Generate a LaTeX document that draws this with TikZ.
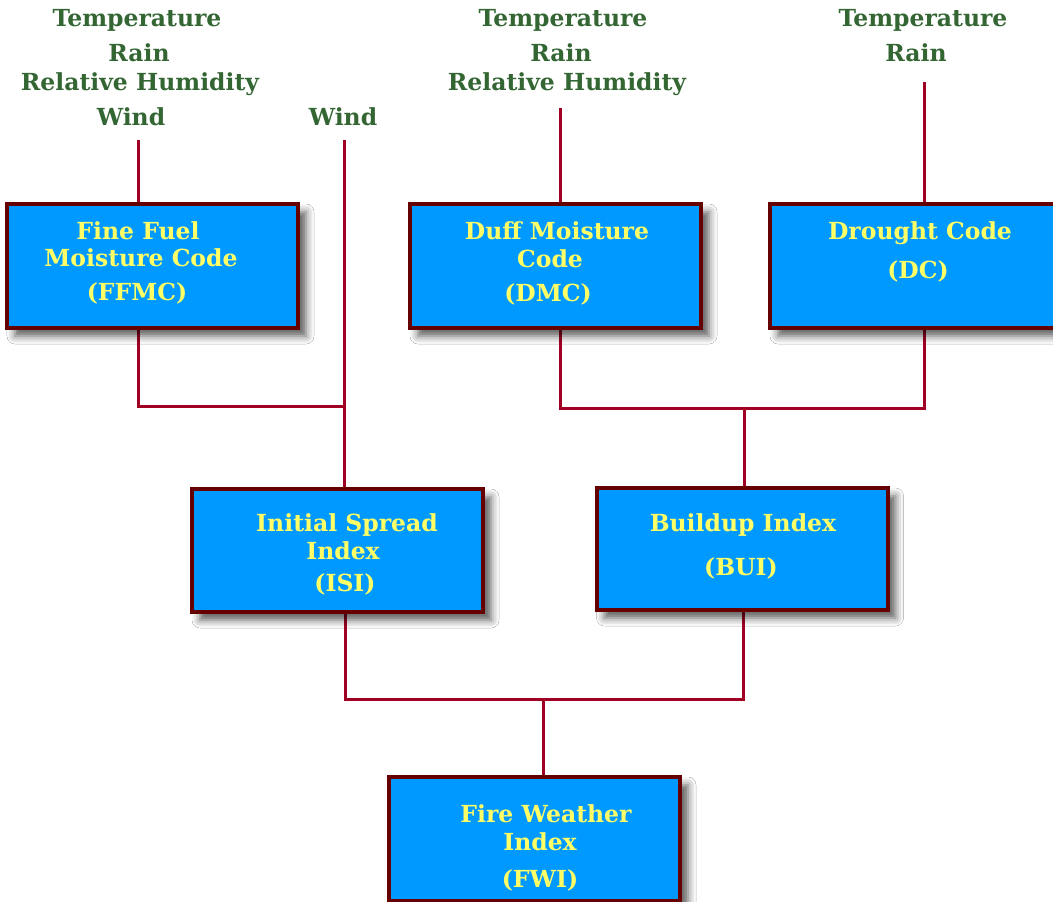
\documentclass[tikz,border=0pt]{standalone}
\usepackage{fontspec}
\setmainfont{DejaVu Serif}
\usetikzlibrary{shadows.blur,backgrounds}
\definecolor{boxblue}{RGB}{0,153,255}
\definecolor{boxedge}{RGB}{102,0,0}
\definecolor{conncol}{RGB}{160,0,35}
\definecolor{txtyellow}{RGB}{255,255,102}
\definecolor{txtgreen}{RGB}{51,102,51}
\begin{document}
\begin{tikzpicture}[x=1pt,y=-1pt,
  box/.style={draw=boxedge, line width=4pt, fill=boxblue, minimum width=291pt, minimum height=124pt, inner sep=0pt,
    blur shadow={shadow xshift=8pt, shadow yshift=-8pt, shadow blur radius=8pt, shadow opacity=65}},
  boxtext/.style={text=txtyellow, font=\bfseries\fontsize{23.5}{27}\selectfont, anchor=base, inner sep=0pt},
  wtext/.style={text=txtgreen, font=\bfseries\fontsize{23.5}{27}\selectfont, anchor=base, inner sep=0pt},
  conn/.style={draw=conncol, line width=3pt}]
\useasboundingbox (0,0) rectangle (1053,902);
\clip (0,0) rectangle (1053,902);

% boxes
\node[box] (ffmc) at (152.5,266) {};
\node[box] (dmc) at (555.5,266) {};
\node[box] (dc) at (915.5,266) {};
\node[box, minimum height=123pt] (isi) at (337.5,550.5) {};
\node[box, minimum height=122pt] (bui) at (742,549) {};
\node[box] (fwi) at (534.5,839) {};

% box texts
\node[boxtext] (ffmc1) at (138,239) {Fine Fuel};
\node[boxtext] (ffmc2) at (141,266) {Moisture Code};
\node[boxtext] (ffmc3) at (137,300) {(FFMC)};
\node[boxtext] (dmc1) at (557,239) {Duff Moisture};
\node[boxtext] (dmc2) at (550,267) {Code};
\node[boxtext] (dmc3) at (548,301) {(DMC)};
\node[boxtext] (dc1) at (920,239) {Drought Code};
\node[boxtext] (dc2) at (918,278) {(DC)};
\node[boxtext] (isi1) at (347,531) {Initial Spread};
\node[boxtext] (isi2) at (343,559) {Index};
\node[boxtext] (isi3) at (345,591) {(ISI)};
\node[boxtext] (bui1) at (743,531) {Buildup Index};
\node[boxtext] (bui2) at (741,575) {(BUI)};
\node[boxtext] (fwi1) at (546,822) {Fire Weather};
\node[boxtext] (fwi2) at (540,850) {Index};
\node[boxtext] (fwi3) at (540,887) {(FWI)};

% weather inputs
\node[wtext] (t1) at (137,27) {Temperature};
\node[wtext] (r1) at (139,61) {Rain};
\node[wtext] (h1) at (140,90) {Relative Humidity};
\node[wtext] (w1) at (131,125) {Wind};
\node[wtext] (w2) at (343,125) {Wind};
\node[wtext] (t2) at (563,27) {Temperature};
\node[wtext] (r2) at (561,61) {Rain};
\node[wtext] (h2) at (567,90) {Relative Humidity};
\node[wtext] (t3) at (923,27) {Temperature};
\node[wtext] (r3) at (916,61) {Rain};

% connector coordinates
\coordinate (cffmc) at (138,140);
\coordinate (cwind) at (344,140);
\coordinate (cdmc) at (560,108);
\coordinate (cdc) at (924,82);
\coordinate (jisi) at (344,406);
\coordinate (jffmc) at (138,406);
\coordinate (jdmc) at (560,408);
\coordinate (jdc) at (924,408);
\coordinate (jbui) at (744,408);
\coordinate (jisib) at (345,699);
\coordinate (jbuib) at (743,699);
\coordinate (jfwi) at (543,699);

\begin{scope}[on background layer]
\fill[white] (0,0) rectangle (1053,902);
\draw[conn] (cffmc) -- (cffmc |- ffmc.north);
\draw[conn] (cwind) -- (cwind |- isi.north);
\draw[conn] (cdmc) -- (cdmc |- dmc.north);
\draw[conn] (cdc) -- (cdc |- dc.north);
\draw[conn] (jffmc |- ffmc.south) -- (jffmc) -- (jisi);
\draw[conn] (jdmc |- dmc.south) -- (jdmc) -- (jdc) -- (jdc |- dc.south);
\draw[conn] (jbui) -- (jbui |- bui.north);
\draw[conn] (jisib |- isi.south) -- (jisib) -- (jbuib) -- (jbuib |- bui.south);
\draw[conn] (jfwi) -- (jfwi |- fwi.north);
\end{scope}
\end{tikzpicture}
\end{document}
